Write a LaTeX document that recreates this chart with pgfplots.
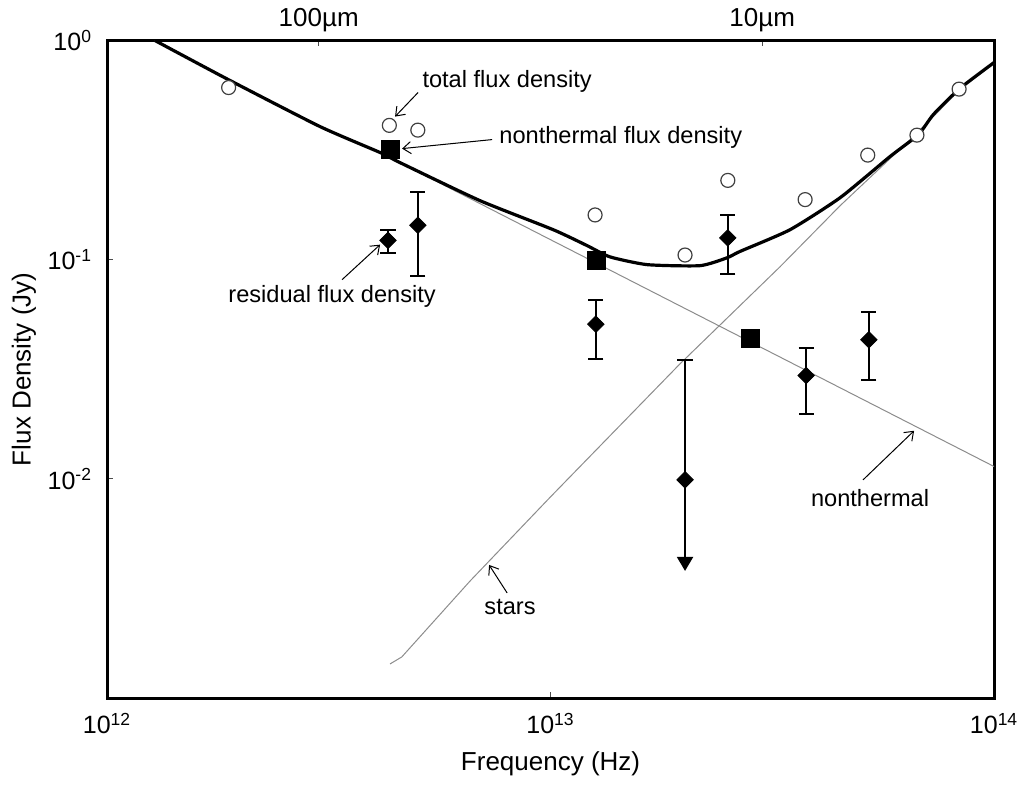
\documentclass[border=0pt]{standalone}
\usepackage{fontspec}
\setmainfont{Liberation Sans}
\usepackage{pgfplots}
\pgfplotsset{compat=1.18}
\usetikzlibrary{arrows.meta}

\begin{document}
\begin{tikzpicture}
  \pgfplotsset{
    myframe/.style={
      scale only axis, width=443.5pt, height=328.75pt,
      xmin=1e12, xmax=1e14, ymin=1e-3, ymax=1,
      xminorticks=false, yminorticks=false,
      axis line style={line width=1.5pt, line join=miter},
      major tick style={line width=0.5pt, black!70},
      major tick length=3pt,
    },
  }
  % top axis: wavelength marks
  \begin{axis}[xmode=log, ymode=log, myframe,
      axis x line*=top, axis y line=none,
      xtick={3e12,3e13}, xticklabels={100µm,10µm},
      xticklabel style={font=\fontsize{13}{15}\selectfont, yshift=1pt},
    ]
    \addplot[draw=none] coordinates {(1e12,1e-3)};
  \end{axis}
  \begin{axis}[xmode=log, ymode=log, myframe, name=main,
      xtick={1e12,1e13,1e14},
      xticklabels={10\textsuperscript{12},10\textsuperscript{13},10\textsuperscript{14}},
      ytick={1,0.1,0.01},
      yticklabels={10\textsuperscript{0},10\textsuperscript{-1},10\textsuperscript{-2}},
      xtick pos=bottom, ytick pos=left,
      xticklabel style={font=\fontsize{12.5}{14}\selectfont, yshift=-4pt},
      yticklabel style={font=\fontsize{12.5}{14}\selectfont, xshift=-4pt},
      xlabel={Frequency (Hz)}, ylabel={Flux Density (Jy)},
      label style={font=\fontsize{13}{15}\selectfont},
      xlabel style={yshift=-2pt},
      ylabel style={yshift=-1pt},
      clip=true,
    ]
    % nonthermal model (follows the total curve at low frequency)
    \addplot[black!45, line width=0.5pt] coordinates {
      (1.282e12,1.0) (1.875e12,0.664) (3.02e12,0.405) (4.13e12,0.308)
      (1e14,0.01138)
    };
    % stars model
    \addplot[black!45, line width=0.5pt] coordinates {
      (4.345e12,1.43e-3) (4.62e12,1.54e-3) (6.585e12,3.42e-3) (1e13,8.28e-3)
      (1.959e13,3.35e-2) (3.293e13,9.29e-2) (4.50e13,0.1766) (6.47e13,0.353)
      (7.3e13,0.45) (8.37e13,0.597) (1e14,0.785)
    };
    % total model
    \addplot[black, line width=1.6pt, line join=round, smooth, tension=0.35] coordinates {
      (1.282e12,1.0) (1.875e12,0.664) (3.02e12,0.405) (4.13e12,0.308)
      (4.58e12,0.277) (6.93e12,0.186) (1.014e13,0.137) (1.208e13,0.116)
      (1.361e13,0.103) (1.652e13,0.0949) (2.173e13,0.0939) (2.50e13,0.102)
      (2.673e13,0.109) (3.467e13,0.137) (4.50e13,0.192) (5.82e13,0.295)
      (6.75e13,0.372) (7.3e13,0.46) (8.37e13,0.604) (1e14,0.794)
    };
    % total flux density
    \addplot[only marks, mark=*, mark size=3.5pt,
      mark options={fill=white, draw=black!75, line width=0.6pt}] coordinates {
      (1.88e12,0.61) (4.33e12,0.41) (5.02e12,0.39) (1.26e13,0.16)
      (2.01e13,0.105) (2.51e13,0.23) (3.75e13,0.188) (5.19e13,0.30)
      (6.70e13,0.37) (8.34e13,0.60)
    };
    % nonthermal flux density
    \addplot[only marks, mark=square*, mark size=4.5pt, black] coordinates {
      (4.345e12,0.318) (1.268e13,0.099) (2.82e13,0.0436)
    };
    % residual flux density
    \addplot[only marks, black, mark=square*, mark size=2.9pt,
      mark options={rotate=45},
      error bars/.cd, y dir=both, y explicit,
      error bar style={line width=1pt},
      error mark options={rotate=90, mark size=3.8pt, line width=1pt}]
      coordinates {
      (4.30e12,0.1225) += (0,0.0145) -= (0,0.0155)
      (5.02e12,0.1435) += (0,0.0605) -= (0,0.059)
      (1.265e13,0.0508) += (0,0.0149) -= (0,0.0155)
      (2.51e13,0.1257) += (0,0.0343) -= (0,0.0396)
      (3.77e13,0.0296) += (0,0.0099) -= (0,0.0099)
      (5.22e13,0.0431) += (0,0.0149) -= (0,0.0148)
    };
    % upper limit
    \addplot[black, line width=1pt, -{Triangle[width=8pt,length=7pt]}]
      coordinates {(2.01e13,0.0099) (2.01e13,0.0038)};
    \addplot[only marks, black, mark=square*, mark size=2.9pt,
      mark options={rotate=45},
      error bars/.cd, y dir=plus, y explicit,
      error bar style={line width=1pt},
      error mark options={rotate=90, mark size=3.8pt, line width=1pt}]
      coordinates {(2.01e13,0.0099) += (0,0.025)};

    % annotations
    \begin{scope}[font=\fontsize{11.8}{14}\selectfont]
      \node at (rel axis cs:0.451,0.9376) {total flux density};
      \draw[line width=0.5pt, -{Straight Barb[length=4pt,width=6pt]}]
        (rel axis cs:0.3506,0.9209) -- (rel axis cs:0.3247,0.8843);
      \node[anchor=west, inner sep=0pt] at (rel axis cs:0.4419,0.8524) {nonthermal flux density};
      \draw[line width=0.5pt, -{Straight Barb[length=4pt,width=6pt]}]
        (rel axis cs:0.4341,0.8493) -- (rel axis cs:0.3326,0.8356);
      \node at (rel axis cs:0.2537,0.6104) {residual flux density};
      \draw[line width=0.5pt, -{Straight Barb[length=4pt,width=6pt]}]
        (rel axis cs:0.2649,0.6362) -- (rel axis cs:0.3078,0.6895);
      \node at (rel axis cs:0.4543,0.1385) {stars};
      \draw[line width=0.5pt, -{Straight Barb[length=4pt,width=6pt]}]
        (rel axis cs:0.4510,0.1598) -- (rel axis cs:0.4307,0.2024);
      \node at (rel axis cs:0.8602,0.3044) {nonthermal};
      \draw[line width=0.5pt, -{Straight Barb[length=4pt,width=6pt]}]
        (rel axis cs:0.8523,0.3318) -- (rel axis cs:0.9098,0.4064);
    \end{scope}
  \end{axis}
  \pgfresetboundingbox
  \path[use as bounding box]
    ([xshift=-53.5pt,yshift=-44.5pt]main.south west)
    rectangle ([xshift=15pt,yshift=20.25pt]main.north east);
\end{tikzpicture}
\end{document}
